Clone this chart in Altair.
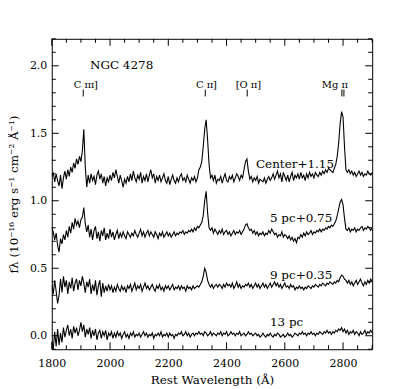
import altair as alt
import pandas as pd

# Wavelength grid: 1800 Å + 5 Å steps
wave_start = 1800
wave_step = 5

# Spectra (without vertical offset), units 1e-16 erg/s/cm2/Å
center = [
    0.03, 0.06, -0.01, 0.05, 0.00, -0.04, 0.04, -0.06, 0.02, 0.07,
    0.01, 0.08, 0.03, 0.10, 0.06, 0.13, 0.09, 0.16, 0.12, 0.18,
    0.14, 0.22, 0.38, 0.10, -0.05, 0.04, -0.02, 0.05, 0.00, 0.03,
    -0.03, 0.04, 0.07, 0.01, 0.05, -0.02, 0.03, -0.04, 0.02, -0.01,
    0.04, 0.00, 0.06, 0.02, 0.08, 0.03, -0.02, 0.04, 0.00, -0.05,
    0.01, -0.02, 0.03, -0.01, 0.05, 0.00, 0.07, 0.02, -0.01, 0.04,
    0.01, 0.06, -0.02, 0.03, 0.00, 0.05, -0.01, 0.04, 0.08, 0.02,
    0.05, -0.02, 0.03, 0.00, 0.04, -0.01, 0.02, 0.05, 0.00, -0.02,
    0.03, -0.03, 0.01, 0.04, 0.00, -0.02, 0.02, -0.01, 0.03, 0.05,
    0.00, 0.02, -0.01, 0.04, 0.01, -0.02, 0.02, 0.00, 0.03, -0.01,
    0.02, 0.08, 0.10, 0.14, 0.25, 0.38, 0.45, 0.30, 0.12, 0.02,
    0.04, 0.00, 0.04, -0.02, 0.01, 0.00, 0.03, -0.02, 0.02, 0.05,
    0.00, -0.01, 0.03, 0.01, 0.04, -0.01, 0.02, 0.05, 0.03, 0.00,
    0.04, 0.02, 0.08, 0.14, 0.16, 0.07, 0.01, 0.03, -0.01, 0.02,
    0.00, 0.03, -0.02, 0.01, 0.00, -0.01, 0.02, -0.02, 0.01, 0.03,
    0.00, 0.02, 0.05, 0.01, 0.04, 0.07, 0.02, 0.05, -0.01, 0.06,
    0.03, 0.00, 0.04, -0.01, 0.03, 0.06, 0.00, 0.04, 0.02, 0.05,
    0.01, 0.06, 0.02, 0.04, 0.00, 0.05, 0.02, 0.06, 0.03, 0.05,
    0.02, 0.06, 0.04, 0.03, 0.06, 0.04, 0.07, 0.05, 0.08, 0.06,
    0.09, 0.08, 0.07, 0.06, 0.09, 0.12, 0.18, 0.28, 0.42, 0.51,
    0.47, 0.25, 0.08, 0.06, 0.08, 0.05, 0.07, 0.04, 0.06, 0.03,
    0.05, 0.07, 0.04, 0.06, 0.03, 0.05, 0.04, 0.07, 0.05, 0.04,
    0.06,
]

pc5 = [
    0.05, 0.02, -0.04, 0.01, -0.08, -0.13, -0.03, -0.07, 0.00, -0.04,
    0.03, -0.02, 0.06, 0.01, 0.09, 0.04, 0.12, 0.07, 0.10, 0.05,
    0.11, 0.13, 0.20, 0.08, 0.02, 0.07, -0.02, 0.04, -0.04, 0.03,
    0.06, -0.03, 0.02, -0.05, 0.03, -0.01, 0.05, -0.04, 0.01, -0.03,
    0.04, -0.02, 0.02, -0.04, 0.00, 0.03, -0.03, 0.01, -0.02, 0.02,
    -0.01, -0.03, 0.02, 0.00, -0.02, 0.01, -0.01, 0.03, 0.00, -0.02,
    0.01, 0.04, -0.01, 0.02, -0.02, 0.01, 0.03, -0.01, 0.02, 0.00,
    -0.02, 0.02, 0.00, -0.03, 0.01, -0.01, 0.02, -0.02, 0.00, 0.02,
    -0.01, 0.01, -0.02, 0.00, 0.02, -0.01, 0.01, 0.00, 0.02, 0.01,
    0.03, 0.00, 0.02, 0.01, 0.03, 0.02, 0.04, 0.02, 0.05, 0.03,
    0.06, 0.05, 0.07, 0.09, 0.14, 0.25, 0.32, 0.16, 0.05, 0.03,
    0.05, 0.01, 0.04, 0.02, 0.00, 0.03, 0.01, 0.04, 0.00, 0.02,
    0.03, 0.00, 0.02, -0.01, 0.01, 0.03, 0.00, 0.02, 0.01, 0.03,
    0.00, 0.02, 0.04, 0.07, 0.08, 0.05, 0.03, 0.04, 0.01, 0.03,
    0.00, 0.02, -0.01, 0.01, 0.00, 0.02, -0.01, 0.01, 0.00, 0.03,
    0.01, 0.04, 0.02, 0.00, 0.01, -0.02, 0.00, -0.01, 0.02, -0.02,
    0.00, -0.01, -0.03, -0.01, -0.04, -0.02, -0.05, -0.03, -0.06, -0.02,
    -0.03, 0.00, -0.02, 0.01, -0.01, 0.02, 0.00, 0.01, 0.03, 0.00,
    0.02, 0.01, 0.03, 0.02, 0.04, 0.02, 0.04, 0.03, 0.05, 0.04,
    0.06, 0.05, 0.07, 0.06, 0.08, 0.10, 0.14, 0.19, 0.24, 0.26,
    0.22, 0.12, 0.04, 0.03, 0.05, 0.02, 0.04, 0.03, 0.05, 0.02,
    0.04, 0.03, 0.05, 0.06, 0.03, 0.05, 0.04, 0.06, 0.05, 0.03,
    0.05,
]

pc9 = [
    0.03, -0.04, 0.06, -0.02, -0.11, -0.05, 0.07, -0.03, 0.09, 0.01,
    0.06, -0.04, 0.05, 0.00, 0.08, -0.02, 0.04, 0.07, -0.01, 0.06,
    0.02, 0.09, 0.04, -0.03, 0.05, 0.01, 0.07, -0.04, 0.03, -0.02,
    0.06, -0.05, 0.02, 0.06, -0.06, 0.04, -0.03, 0.02, -0.02, 0.03,
    -0.01, 0.02, -0.03, 0.01, -0.02, 0.03, 0.00, -0.02, 0.02, -0.01,
    0.01, -0.03, 0.02, 0.00, 0.03, -0.02, 0.01, 0.04, -0.01, 0.02,
    0.00, 0.03, -0.02, 0.01, 0.04, 0.00, 0.02, -0.01, 0.01, 0.03,
    0.00, -0.02, 0.02, 0.00, 0.03, -0.01, 0.01, -0.02, 0.02, 0.00,
    0.02, -0.01, 0.01, 0.03, -0.01, 0.01, 0.00, 0.02, -0.01, 0.02,
    0.00, 0.01, -0.02, 0.02, 0.00, 0.01, -0.01, 0.02, 0.00, 0.01,
    0.02, 0.01, 0.03, 0.05, 0.09, 0.15, 0.12, 0.06, 0.03, 0.01,
    0.03, 0.00, 0.02, 0.03, 0.01, 0.03, 0.02, 0.00, 0.03, 0.01,
    0.04, 0.02, 0.03, 0.01, 0.04, 0.00, 0.02, 0.05, 0.01, 0.03,
    0.00, 0.02, 0.01, 0.03, 0.02, 0.04, 0.01, 0.03, 0.00, 0.02,
    0.04, 0.01, 0.03, 0.00, 0.02, 0.04, 0.01, 0.03, 0.00, 0.02,
    0.04, 0.01, 0.03, 0.05, 0.02, 0.04, 0.01, 0.03, 0.00, 0.02,
    0.04, 0.01, 0.02, 0.00, 0.03, 0.01, 0.02, -0.01, 0.01, 0.00,
    0.02, 0.00, 0.01, -0.01, 0.01, 0.00, 0.02, 0.01, 0.00, 0.02,
    0.01, 0.03, 0.02, 0.01, 0.03, 0.02, 0.04, 0.03, 0.02, 0.04,
    0.03, 0.05, 0.04, 0.03, 0.05, 0.04, 0.06, 0.05, 0.08, 0.10,
    0.09, 0.07, 0.06, 0.04, 0.06, 0.03, 0.05, 0.02, 0.04, 0.06,
    0.03, 0.05, 0.07, 0.04, 0.02, 0.05, 0.03, 0.06, 0.04, 0.07,
    0.05,
]

pc13 = [
    -0.04, -0.10, 0.03, -0.08, 0.05, -0.07, 0.02, -0.05, 0.06, -0.01,
    0.04, 0.08, 0.00, 0.05, -0.02, 0.07, 0.02, 0.06, 0.00, 0.04,
    0.10, 0.03, 0.08, -0.01, 0.05, 0.01, 0.06, -0.02, 0.04, 0.00,
    0.05, -0.03, 0.02, 0.04, -0.02, 0.03, 0.00, 0.04, -0.03, 0.02,
    0.00, 0.03, -0.02, 0.02, -0.01, 0.03, 0.00, 0.02, -0.02, 0.01,
    0.03, -0.01, 0.01, -0.02, 0.02, 0.00, 0.03, -0.01, 0.01, 0.00,
    0.02, -0.01, 0.01, 0.03, 0.00, 0.02, -0.01, 0.01, 0.00, 0.02,
    -0.02, 0.01, 0.00, 0.02, 0.00, 0.03, -0.01, 0.01, 0.00, 0.02,
    -0.01, 0.02, 0.00, 0.01, -0.02, 0.01, 0.00, 0.02, 0.01, 0.03,
    0.00, 0.01, 0.03, 0.00, 0.02, -0.01, 0.01, 0.02, 0.00, 0.02,
    0.01, 0.03, 0.01, 0.02, 0.00, 0.03, 0.02, 0.00, 0.01, 0.03,
    0.00, 0.02, 0.01, 0.00, 0.02, 0.01, 0.03, 0.00, 0.02, 0.01,
    0.03, 0.00, 0.01, 0.03, 0.01, 0.02, 0.00, 0.02, 0.01, 0.03,
    0.00, 0.01, 0.02, 0.00, 0.01, 0.03, 0.01, 0.02, 0.00, 0.01,
    0.02, 0.00, 0.01, -0.01, 0.00, 0.02, 0.00, -0.01, 0.01, 0.00,
    0.02, 0.00, -0.01, 0.01, 0.00, 0.02, 0.01, -0.01, 0.00, 0.01,
    -0.01, 0.00, 0.02, 0.00, 0.01, -0.01, 0.00, 0.02, 0.01, 0.00,
    0.02, 0.01, 0.03, 0.01, 0.02, 0.00, 0.02, 0.01, 0.03, 0.01,
    0.02, 0.00, 0.02, 0.01, 0.03, 0.02, 0.01, 0.03, 0.02, 0.04,
    0.02, 0.03, 0.01, 0.03, 0.02, 0.04, 0.03, 0.05, 0.04, 0.06,
    0.03, 0.05, 0.02, 0.04, 0.01, 0.03, 0.02, 0.04, 0.01, 0.03,
    0.02, 0.00, 0.03, 0.01, 0.02, 0.04, 0.01, 0.03, 0.02, 0.04,
    0.02,
]

series_names = ["Center", "5 pc", "9 pc", "13 pc"]
offsets = [1.15, 0.75, 0.35, 0.0]
series_labels = ["Center+1.15", "5 pc+0.75", "9 pc+0.35", "13 pc"]
series_label_x = [2501, 2549, 2549, 2549]
series_label_y = [1.242, 0.844, 0.417, 0.07]

line_ids = ["C \u026a\u026a\u026a]", "C \u026a\u026a]", "[O \u026a\u026a]", "Mg \u026a\u026a"]
line_id_x = [1917, 2331, 2475, 2772]
line_id_y = [1.839, 1.839, 1.839, 1.839]
line_tick_waves = [1908, 2327, 2471, 2796, 2803]
line_tick_y = [1.773, 1.773, 1.773, 1.773, 1.773]
line_tick_y2 = [1.824, 1.824, 1.824, 1.824, 1.824]

title_text = "NGC 4278"
title_x = 1931
title_y = 1.979

x_major = [1800, 2000, 2200, 2400, 2600, 2800]
x_minor = [v for v in range(1800, 2901, 50) if v not in x_major]
y_major = [0.0, 0.5, 1.0, 1.5, 2.0]
y_minor = [round(-0.1 + 0.1 * i, 1) for i in range(24)]
y_minor = [v for v in y_minor if v not in y_major]

W, H = 322, 312
FONT = "'DejaVu Serif', 'Liberation Serif', serif"
XTITLE = "Rest Wavelength (Å)"
YTITLE = "fλ (10⁻¹⁶ erg s⁻¹ cm⁻² Å⁻¹)"

rows = []
for name, off, spec in zip(series_names, offsets, [center, pc5, pc9, pc13]):
    for i, f in enumerate(spec):
        rows.append({"series": name, "wave": wave_start + wave_step * i, "flux": f + off})
spec_df = pd.DataFrame(rows)

xscale = alt.Scale(domain=[1800, 2900], nice=False, zero=False)
yscale = alt.Scale(domain=[-0.1, 2.2], nice=False, zero=False)

xaxis = alt.Axis(values=x_major, format="d", title=XTITLE, ticks=False, domain=False,
                 grid=False, labelFont=FONT, labelFontSize=11, labelColor="black",
                 labelPadding=8, titleFont=FONT, titleFontSize=12,
                 titleFontWeight="normal", titleColor="black", titlePadding=6,
                 labelFlush=False)
yaxis = alt.Axis(values=y_major, format=".1f", title=YTITLE, ticks=False, domain=False,
                 grid=False, labelFont=FONT, labelFontSize=11, labelColor="black",
                 labelPadding=5, titleFont=FONT, titleFontSize=12,
                 titleFontWeight="normal", titleColor="black", titlePadding=9,
                 labelFlush=False)


def X(field):
    return alt.X(field, scale=xscale, axis=xaxis, title=XTITLE)


def Y(field):
    return alt.Y(field, scale=yscale, axis=yaxis, title=YTITLE)


lines = alt.Chart(spec_df).mark_line(color="black", strokeWidth=1.1, clip=True).encode(
    x=X("wave:Q"), y=Y("flux:Q"), detail="series:N")


def xticks(vals, length):
    df = pd.DataFrame({"t": vals})
    bottom = alt.Chart(df).mark_rule(color="black", strokeWidth=1).encode(
        x=X("t:Q"), y=alt.value(H), y2=alt.value(H - length))
    top = alt.Chart(df).mark_rule(color="black", strokeWidth=1).encode(
        x=X("t:Q"), y=alt.value(0), y2=alt.value(length))
    return [bottom, top]


def yticks(vals, length):
    df = pd.DataFrame({"t": vals})
    left = alt.Chart(df).mark_rule(color="black", strokeWidth=1).encode(
        y=Y("t:Q"), x=alt.value(0), x2=alt.value(length))
    right = alt.Chart(df).mark_rule(color="black", strokeWidth=1).encode(
        y=Y("t:Q"), x=alt.value(W), x2=alt.value(W - length))
    return [left, right]


tick_layers = xticks(x_major, 7) + xticks(x_minor, 4) + yticks(y_major, 7) + yticks(y_minor, 4)

lab_df = pd.DataFrame({"x": series_label_x, "y": series_label_y, "t": series_labels})
labels = alt.Chart(lab_df).mark_text(font=FONT, fontSize=12, align="left", baseline="alphabetic",
                                     color="black").encode(
    x=X("x:Q"), y=Y("y:Q"), text="t:N")

id_df = pd.DataFrame({"x": line_id_x, "y": line_id_y, "t": line_ids})
ids = alt.Chart(id_df).mark_text(font=FONT, fontSize=10, align="center", baseline="alphabetic",
                                 color="black").encode(
    x=X("x:Q"), y=Y("y:Q"), text="t:N")

idt_df = pd.DataFrame({"x": line_tick_waves, "y": line_tick_y, "y2": line_tick_y2})
idticks = alt.Chart(idt_df).mark_rule(color="black", strokeWidth=1).encode(
    x=X("x:Q"), y=Y("y:Q"), y2="y2:Q")

ttl_df = pd.DataFrame({"x": [title_x], "y": [title_y], "t": [title_text]})
ttl = alt.Chart(ttl_df).mark_text(font=FONT, fontSize=12, align="left", baseline="alphabetic",
                                  color="black").encode(
    x=X("x:Q"), y=Y("y:Q"), text="t:N")

chart = alt.layer(lines, *tick_layers, labels, ids, idticks, ttl).properties(
    width=W, height=H,
    autosize=alt.AutoSizeParams(type="none"),
    padding={"left": 44, "top": 30, "right": 35, "bottom": 40},
    background="white",
).configure_view(stroke="black", strokeWidth=1)

chart.save("out.html", embed_options={"renderer": "svg", "actions": False})
